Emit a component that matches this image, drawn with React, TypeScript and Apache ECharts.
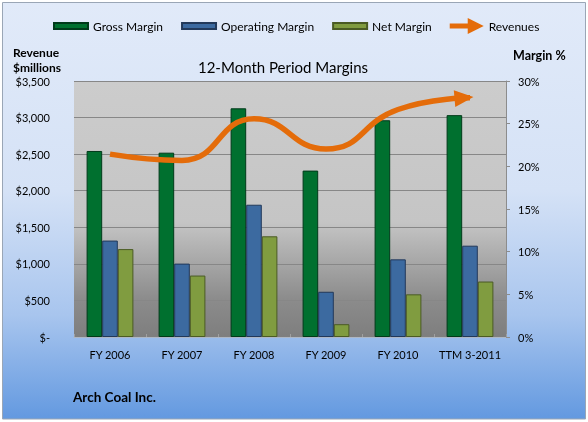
import React, { useEffect, useRef } from "react";
import * as echarts from "echarts";

const categories = ["FY 2006", "FY 2007", "FY 2008", "FY 2009", "FY 2010", "TTM 3-2011"];
const grossMargin = [21.8, 21.6, 26.8, 19.5, 25.4, 26.0];
const operatingMargin = [11.3, 8.6, 15.5, 5.3, 9.1, 10.7];
const netMargin = [10.3, 7.2, 11.8, 1.5, 5.0, 6.5];
const revenues = [2500, 2414, 2984, 2570, 3110, 3270];
const revenueTicks = { min: 0, max: 3500, interval: 500 };
const marginTicks = { min: 0, max: 30, interval: 5 };

const FONT = "Lato, 'Liberation Sans', sans-serif";
const BAR_ICON = "path://M0,0 M0,5 L34,5 L34,11 L0,11 Z M34,16";
const ARROW_ICON = "path://M0,5.5 L18,5.5 L18,0 L34,8 L18,16 L18,10.5 L0,10.5 Z";

export default function App() {
  const ref = useRef<HTMLDivElement>(null);

  useEffect(() => {
    if (!ref.current) return;
    const chart = echarts.init(ref.current, null, { renderer: "svg" });
    const lastIdx = revenues.length - 1;
    const lineData = revenues.map((v, i) =>
      i === lastIdx
        ? {
            value: v,
            symbol: "triangle",
            symbolSize: [17, 19],
            symbolRotate: -85,
            symbolOffset: [-6, 0],
          }
        : v
    );

    chart.setOption({
      animation: false,
      textStyle: { fontFamily: FONT },
      graphic: [
        {
          type: "rect",
          z: -10,
          shape: { x: 2.5, y: 2.5, width: 583, height: 416.5 },
          style: {
            fill: {
              type: "linear",
              x: 0,
              y: 0,
              x2: 0,
              y2: 1,
              colorStops: [
                { offset: 0, color: "#E1EAF9" },
                { offset: 0.45, color: "#D5E2F6" },
                { offset: 0.75, color: "#A8C5EE" },
                { offset: 1, color: "#6399E0" },
              ],
            },
            stroke: "#9AA6B6",
            lineWidth: 1,
          },
        },
        {
          type: "text",
          x: 13,
          y: 52,
          style: { text: "Revenue", font: `bold 12px ${FONT}`, fill: "#000", textVerticalAlign: "middle" },
        },
        {
          type: "text",
          x: 13,
          y: 67,
          style: { text: "$millions", font: `bold 12px ${FONT}`, fill: "#000", textVerticalAlign: "middle" },
        },
        {
          type: "text",
          x: 513,
          y: 55,
          style: { text: "Margin %", font: `bold 12.5px ${FONT}`, fill: "#000", textVerticalAlign: "middle" },
        },
        {
          type: "text",
          x: 283,
          y: 67,
          style: {
            text: "12-Month Period Margins",
            font: `15px ${FONT}`,
            fill: "#000",
            textAlign: "center",
            textVerticalAlign: "middle",
          },
        },
        {
          type: "text",
          x: 73,
          y: 397,
          style: { text: "Arch Coal Inc.", font: `bold 13.5px ${FONT}`, fill: "#000", textVerticalAlign: "middle" },
        },
      ],
      legend: {
        left: 48,
        top: 12,
        itemWidth: 34,
        itemHeight: 16,
        itemGap: 18,
        textStyle: { fontSize: 12, color: "#000", fontFamily: FONT },
        data: [
          { name: "Gross Margin", icon: BAR_ICON },
          { name: "Operating Margin", icon: BAR_ICON },
          { name: "Net Margin", icon: BAR_ICON },
          { name: "Revenues", icon: ARROW_ICON, itemStyle: { color: "#E46C0A", borderWidth: 0 } },
        ],
      },
      grid: {
        left: 74,
        right: 82,
        top: 81,
        bottom: 85,
        show: true,
        borderWidth: 0,
        backgroundColor: {
          type: "linear",
          x: 0,
          y: 0,
          x2: 0,
          y2: 1,
          colorStops: [
            { offset: 0, color: "#CCCCCC" },
            { offset: 0.55, color: "#C5C5C5" },
            { offset: 0.85, color: "#8C8C8C" },
            { offset: 1, color: "#7E7E7E" },
          ],
        },
      },
      xAxis: {
        type: "category",
        data: categories,
        axisLine: { lineStyle: { color: "#AEB7C4", width: 1 } },
        axisTick: { show: true, inside: true, length: 3, lineStyle: { color: "#A0A0A0" } },
        axisLabel: { interval: 0, margin: 12, color: "#000", fontSize: 11, fontFamily: FONT },
      },
      yAxis: [
        {
          type: "value",
          position: "left",
          ...revenueTicks,
          axisLine: { show: false },
          axisTick: { show: false },
          splitLine: { show: true, lineStyle: { color: "#878787", width: 1 } },
          axisLabel: {
            margin: 24,
            color: "#000",
            fontSize: 11,
            fontFamily: FONT,
            formatter: (v: number) => (v === 0 ? "$-" : "$" + v.toLocaleString("en-US")),
          },
        },
        {
          type: "value",
          position: "right",
          ...marginTicks,
          axisLine: { show: true, lineStyle: { color: "#8C8C8C" } },
          axisTick: { show: true, length: 4, lineStyle: { color: "#8C8C8C" } },
          splitLine: { show: false },
          axisLabel: { margin: 12, color: "#000", fontSize: 11, fontFamily: FONT, formatter: "{value}%" },
        },
      ],
      series: [
        {
          name: "Gross Margin",
          type: "bar",
          yAxisIndex: 1,
          data: grossMargin,
          barGap: "0%",
          barCategoryGap: "35%",
          itemStyle: { color: "#00702F", borderColor: "#003A1A", borderWidth: 1 },
        },
        {
          name: "Operating Margin",
          type: "bar",
          yAxisIndex: 1,
          data: operatingMargin,
          barGap: "0%",
          barCategoryGap: "35%",
          itemStyle: { color: "#3C6AA0", borderColor: "#22395A", borderWidth: 1 },
        },
        {
          name: "Net Margin",
          type: "bar",
          yAxisIndex: 1,
          data: netMargin,
          barGap: "0%",
          barCategoryGap: "35%",
          itemStyle: { color: "#809C40", borderColor: "#4A5B24", borderWidth: 1 },
        },
        {
          name: "Revenues",
          type: "line",
          yAxisIndex: 0,
          data: lineData,
          smooth: 0.5,
          symbol: "none",
          lineStyle: { color: "#E46C0A", width: 5.5 },
          itemStyle: { color: "#E46C0A" },
          z: 5,
        },
      ],
    });

    return () => chart.dispose();
  }, []);

  return <div ref={ref} style={{ position: "fixed", left: 0, top: 0, width: 588, height: 422 }} />;
}
